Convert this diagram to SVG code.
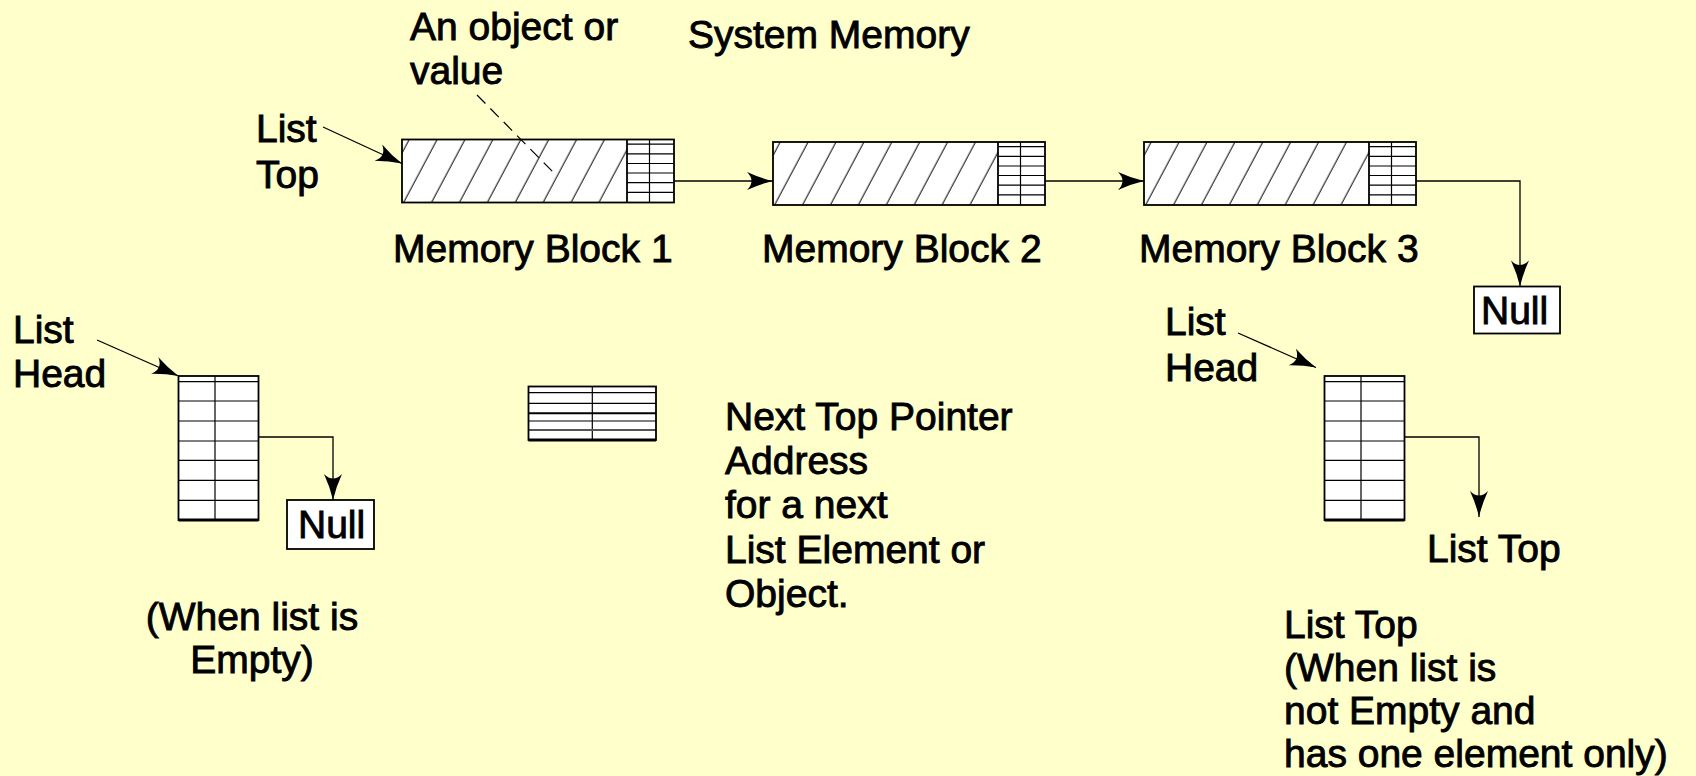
<svg xmlns="http://www.w3.org/2000/svg" xmlns:xlink="http://www.w3.org/1999/xlink" width="1696" height="776" viewBox="0 0 1696 776">
  <style>
    text { font-family: "Liberation Sans", Arial, Helvetica, sans-serif; font-size: 39px; fill: #000; stroke: #000; stroke-width: 0.9; }
    .box { fill: #fff; stroke: #000; stroke-width: 1.8; }
    .frame { fill: none; stroke: #000; stroke-width: 1.8; }
    .rule { stroke: #000; stroke-width: 1.2; fill: none; }
    .thick { stroke: #000; stroke-width: 3; fill: none; }
    .link { stroke: #000; stroke-width: 1.3; fill: none; marker-end: url(#arrow); }
    .dash { stroke: #000; stroke-width: 1.2; fill: none; stroke-dasharray: 12 7; }
  </style>
  <defs>
    <marker id="arrow" markerUnits="userSpaceOnUse" viewBox="-28 -11 30 22" markerWidth="30" markerHeight="22" refX="0" refY="0" orient="auto">
      <path d="M0,0 Q-13,-3 -26,-9 Q-17,0 -26,9 Q-13,3 0,0 Z" fill="#000"/>
    </marker>
    <pattern id="hatch" patternUnits="userSpaceOnUse" width="27.9" height="20" patternTransform="skewX(-28)">
      <line x1="7.2" y1="-1" x2="7.2" y2="21" stroke="#000" stroke-width="1.1"/>
    </pattern>
    <!-- memory block: hatched data area plus pointer grid -->
    <g id="memblock">
      <rect x="0" y="0" width="225" height="63" fill="#fff"/>
      <rect x="0" y="0" width="225" height="63" fill="url(#hatch)"/>
      <rect x="225" y="0" width="47" height="63" fill="#fff"/>
      <path class="rule" d="M225,4.7 H272 M225,14.3 H272 M225,24 H272 M225,33.5 H272 M225,43.2 H272 M225,52.8 H272 M247.5,0 V63"/>
      <line x1="225" y1="0" x2="225" y2="63" stroke="#000" stroke-width="1.8"/>
      <rect class="frame" x="0" y="0" width="272" height="63"/>
    </g>
    <!-- standalone list head pointer grid -->
    <g id="headgrid">
      <rect x="0" y="0" width="80" height="144" fill="#fff"/>
      <path class="rule" d="M0,5.7 H80 M0,25 H80 M0,45 H80 M0,65 H80 M0,84.3 H80 M0,104.3 H80 M0,124.3 H80 M36.5,0 V144"/>
      <rect class="frame" x="0" y="0" width="80" height="144"/>
      <line class="thick" x1="0" y1="144" x2="80" y2="144"/>
    </g>
  </defs>

  <rect x="0" y="0" width="1696" height="776" fill="#ffffcc"/>

  <g id="title">
    <text x="688" y="48" font-size="39.5">System Memory</text>
  </g>

  <g id="object-note">
    <text x="410" y="40">An object or</text>
    <text x="410" y="84">value</text>
  </g>

  <g id="list-top-label">
    <text x="256" y="142">List</text>
    <text x="256" y="188">Top</text>
  </g>

  <g id="block1">
    <use xlink:href="#memblock" transform="translate(402,139.5)"/>
    <text x="393" y="262">Memory Block 1</text>
  </g>

  <g id="block2">
    <use xlink:href="#memblock" transform="translate(773,142)"/>
    <text x="762" y="262">Memory Block 2</text>
  </g>

  <g id="block3">
    <use xlink:href="#memblock" transform="translate(1144,142)"/>
    <text x="1139" y="262">Memory Block 3</text>
  </g>

  <g id="null-top">
    <rect class="box" x="1474" y="286.5" width="86" height="47"/>
    <text x="1481" y="324">Null</text>
  </g>

  <g id="empty-list">
    <text x="13" y="343">List</text>
    <text x="13" y="387">Head</text>
    <use xlink:href="#headgrid" transform="translate(178.5,376)"/>
  </g>

  <g id="null-empty">
    <rect class="box" x="287" y="500" width="87" height="49"/>
    <text x="298" y="538">Null</text>
  </g>

  <g id="empty-note">
    <text x="252" y="630" text-anchor="middle">(When list is</text>
    <text x="252" y="673" text-anchor="middle">Empty)</text>
  </g>

  <g id="legend-grid">
    <rect x="528.5" y="386.5" width="127.5" height="53.5" fill="#fff"/>
    <path class="rule" d="M528.5,392.7 H656 M528.5,403.3 H656 M528.5,421 H656 M592.3,386.5 V440"/>
    <line x1="528.5" y1="413.3" x2="656" y2="413.3" stroke="#000" stroke-width="2"/>
    <line x1="528.5" y1="430" x2="656" y2="430" stroke="#555" stroke-width="2"/>
    <rect class="frame" x="528.5" y="386.5" width="127.5" height="53.5"/>
    <line class="thick" x1="528.5" y1="440" x2="656" y2="440"/>
  </g>

  <g id="legend-text">
    <text x="725" y="430">Next Top Pointer</text>
    <text x="725" y="474">Address</text>
    <text x="725" y="518">for a next</text>
    <text x="725" y="563">List Element or</text>
    <text x="725" y="607">Object.</text>
  </g>

  <g id="one-element-list">
    <text x="1165" y="335">List</text>
    <text x="1165" y="381">Head</text>
    <use xlink:href="#headgrid" transform="translate(1324.5,376)"/>
  </g>

  <g id="list-top-target">
    <text x="1427" y="562">List Top</text>
  </g>

  <g id="one-element-note">
    <text x="1284" y="638">List Top</text>
    <text x="1284" y="681">(When list is</text>
    <text x="1284" y="724">not Empty and</text>
    <text x="1284" y="767">has one element only)</text>
  </g>

  <g id="connectors">
    <path class="dash" d="M477,95 L553,172"/>
    <path class="link" d="M323,127 L402,163.5"/>
    <path class="link" d="M674,181 H773"/>
    <path class="link" d="M1045,181 H1144"/>
    <path class="link" d="M1416,181 H1520 V286.5"/>
    <path class="link" d="M97,340 L178.5,376"/>
    <path class="link" d="M258.5,437 H333 V500"/>
    <path class="link" d="M1238,333 L1316,367.5"/>
    <path class="link" d="M1404.5,437 H1479 V517"/>
  </g>
</svg>
